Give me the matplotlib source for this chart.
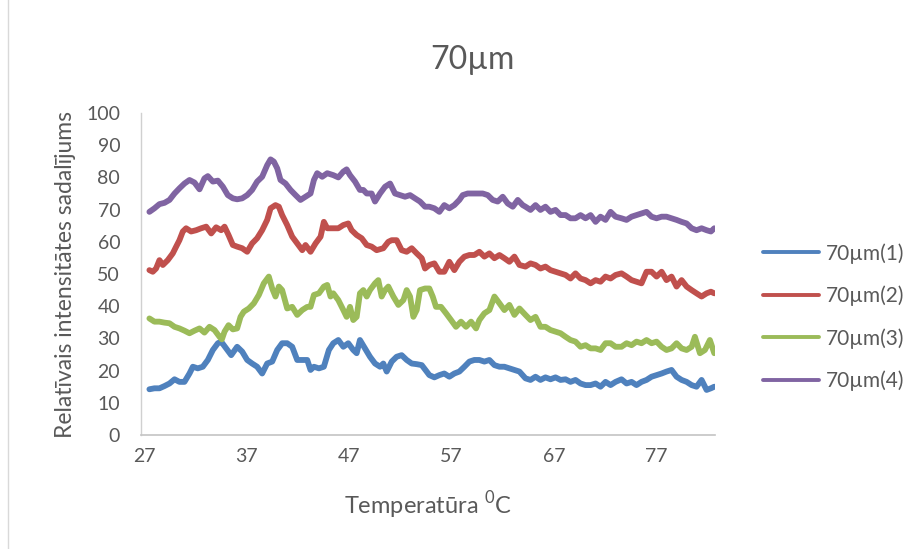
import matplotlib
matplotlib.use("Agg")
import matplotlib.pyplot as plt
from matplotlib.lines import Line2D

plt.rcParams['font.family'] = ['Lato', 'DejaVu Sans']
plt.rcParams['mathtext.fontset'] = 'custom'
plt.rcParams['mathtext.rm'] = 'Lato'

# temperature (C) and relative intensity
temp_1 = [27.52, 28.01, 28.50, 28.99, 29.48, 29.97, 30.45, 30.94, 31.43, 31.76, 32.24, 32.73, 33.22, 33.71, 34.20, 34.52, 35.01, 35.50,
          36.08, 36.57, 37.06, 37.54, 38.03, 38.52, 39.01, 39.50, 39.99, 40.47, 40.96, 41.45, 41.94, 42.43, 42.92, 43.24, 43.57, 44.06, 44.54, 45.03,
          45.46, 45.95, 46.44, 46.92, 47.41, 47.74, 48.06, 48.55, 49.04, 49.53, 50.02, 50.34, 50.67, 51.16, 51.64, 52.13, 52.62, 53.11, 53.60, 54.09, 54.57,
          54.83, 55.32, 55.81, 56.29, 56.78, 57.27, 57.76, 58.25, 58.74, 59.22, 59.71, 60.20, 60.69, 61.18, 61.67, 62.15, 62.64, 63.13, 63.62,
          64.21, 64.70, 65.19, 65.67, 66.16, 66.65, 67.14, 67.63, 68.12, 68.60, 69.09, 69.58, 70.07, 70.56, 71.05, 71.53, 72.02, 72.51, 73.00,
          73.58, 74.07, 74.56, 75.04, 75.53, 76.02, 76.51, 77.00, 77.49, 77.97, 78.46, 78.95, 79.44, 79.93, 80.42, 80.90, 81.39, 81.88, 82.30, 82.63]
val_1 = [14.2, 14.5, 14.5, 15.2, 16.0, 17.3, 16.5, 16.5, 19.1, 21.2, 20.7, 21.2, 23.3, 26.4, 28.5, 29.0, 26.9, 24.8,
         27.4, 25.9, 23.3, 22.2, 21.2, 19.1, 22.2, 22.8, 26.4, 28.5, 28.5, 27.4, 23.3, 23.3, 23.3, 20.2, 21.2, 20.7, 21.2, 26.4,
         28.5, 29.5, 27.4, 28.5, 26.4, 25.4, 29.5, 26.9, 24.3, 22.2, 21.2, 22.2, 19.7, 22.8, 24.3, 24.8, 23.3, 22.2, 22.0, 21.7, 19.7,
         18.6, 17.9, 18.6, 19.1, 18.1, 19.1, 19.7, 21.2, 22.8, 23.3, 23.3, 22.8, 23.3, 21.7, 21.2, 21.2, 20.7, 20.2, 19.7,
         17.6, 17.1, 18.1, 17.1, 17.9, 17.3, 17.9, 17.1, 17.3, 16.5, 17.1, 16.0, 15.5, 15.5, 16.0, 15.0, 16.5, 15.5, 16.5,
         17.3, 16.0, 16.5, 15.5, 16.5, 17.1, 18.1, 18.6, 19.1, 19.7, 20.2, 18.1, 17.1, 16.5, 15.5, 15.0, 17.1, 14.0, 14.5, 15.0]

temp_2 = [27.52, 27.85, 28.17, 28.50, 28.83, 29.31, 29.80, 30.13, 30.45, 30.78, 31.10, 31.59, 32.08, 32.57, 33.06, 33.55, 34.03, 34.52, 34.85, 35.24, 35.66,
          36.08, 36.57, 37.06, 37.54, 38.03, 38.52, 39.01, 39.34, 39.82, 40.15, 40.47, 40.96, 41.45, 41.94, 42.43, 42.75, 43.24, 43.73, 44.22, 44.54, 44.87,
          45.46, 45.95, 46.44, 46.92, 47.25, 47.74, 48.23, 48.72, 49.20, 49.69, 50.34, 50.83, 51.16, 51.64, 52.13, 52.62, 53.11, 53.60, 54.09, 54.41,
          54.83, 55.32, 55.81, 56.29, 56.78, 57.27, 57.76, 58.25, 58.74, 59.22, 59.71, 60.20, 60.69, 61.18, 61.67, 62.15, 62.64, 63.13, 63.62,
          64.21, 64.70, 65.19, 65.67, 66.16, 66.65, 67.14, 67.63, 68.12, 68.60, 69.09, 69.58, 70.07, 70.56, 71.05, 71.53, 72.02, 72.51, 73.00,
          73.58, 74.07, 74.56, 75.04, 75.53, 76.02, 76.51, 77.00, 77.49, 77.97, 78.46, 78.95, 79.44, 79.93, 80.42, 80.90, 81.39, 81.88, 82.30, 82.63]
val_2 = [51.2, 50.7, 51.7, 54.3, 52.8, 54.3, 56.4, 58.5, 60.5, 63.2, 64.2, 63.2, 63.6, 64.2, 64.7, 62.6, 64.5, 63.6, 64.7, 62.1, 59.0,
         58.5, 58.0, 56.9, 59.5, 61.1, 63.6, 66.8, 70.4, 71.4, 70.9, 68.3, 65.2, 61.6, 59.5, 57.4, 59.0, 56.9, 59.5, 61.6, 66.2, 64.2,
         64.2, 64.2, 65.2, 65.7, 63.6, 62.1, 61.1, 59.0, 58.5, 57.4, 58.0, 60.0, 60.5, 60.5, 57.4, 56.9, 58.0, 56.4, 54.9, 51.7,
         52.8, 53.3, 50.7, 50.7, 53.8, 51.2, 53.8, 55.4, 55.9, 55.9, 56.9, 55.4, 56.4, 54.9, 55.9, 54.9, 53.8, 55.4, 52.8,
         52.3, 53.3, 52.8, 51.7, 52.3, 51.2, 50.7, 50.2, 49.7, 48.6, 50.2, 48.6, 48.1, 47.1, 48.1, 47.6, 49.2, 48.6, 49.7,
         50.2, 49.2, 48.1, 47.6, 47.1, 50.7, 50.7, 49.2, 50.7, 48.1, 49.2, 46.1, 48.1, 46.1, 45.0, 44.0, 43.0, 44.0, 44.5, 44.0]

temp_3 = [27.52, 28.01, 28.50, 28.99, 29.48, 29.97, 30.45, 30.94, 31.43, 31.92, 32.41, 32.89, 33.38, 33.87, 34.36, 34.59, 34.85, 35.24, 35.66,
          36.08, 36.41, 36.73, 37.22, 37.71, 38.20, 38.68, 39.17, 39.50, 39.82, 40.15, 40.47, 40.96, 41.45, 41.94, 42.43, 42.92, 43.24, 43.57, 44.06, 44.54, 44.87, 45.19,
          45.46, 45.95, 46.44, 46.76, 47.09, 47.41, 47.74, 48.06, 48.39, 48.72, 49.04, 49.53, 49.85, 50.18, 50.51, 50.83, 51.32, 51.81, 52.30, 52.62, 52.95, 53.27, 53.60, 53.92, 54.41,
          54.83, 55.16, 55.48, 55.97, 56.46, 56.95, 57.43, 57.92, 58.41, 58.90, 59.39, 59.71, 60.20, 60.69, 61.18, 61.67, 62.15, 62.64, 63.13, 63.62,
          64.21, 64.70, 65.19, 65.67, 66.16, 66.65, 67.14, 67.63, 68.12, 68.60, 69.09, 69.58, 70.07, 70.56, 71.05, 71.53, 72.02, 72.51, 73.00,
          73.58, 74.07, 74.56, 75.04, 75.53, 76.02, 76.51, 77.00, 77.49, 77.97, 78.46, 78.95, 79.44, 79.93, 80.42, 80.74, 81.23, 81.72, 82.20, 82.63]
val_3 = [36.2, 35.2, 35.2, 34.9, 34.7, 33.6, 33.1, 32.4, 31.6, 32.4, 33.1, 31.8, 33.6, 32.6, 30.5, 29.7, 32.1, 34.1, 32.8,
         33.1, 36.7, 38.3, 39.3, 40.9, 43.5, 47.1, 49.2, 45.5, 43.0, 46.1, 45.0, 39.3, 39.8, 37.3, 38.8, 39.8, 39.8, 43.5, 44.0, 46.1, 46.6, 43.0,
         44.0, 41.9, 38.8, 36.7, 39.8, 35.7, 36.7, 44.0, 45.0, 43.0, 45.0, 47.1, 48.1, 43.0, 45.0, 46.1, 43.0, 40.4, 41.9, 45.0, 43.0, 36.7, 38.8, 45.0, 45.5,
         45.5, 43.0, 39.8, 39.8, 37.8, 35.7, 33.6, 35.2, 33.6, 35.2, 33.1, 35.7, 37.8, 38.8, 43.0, 40.9, 38.8, 40.4, 37.3, 39.3,
         37.3, 35.7, 36.7, 33.6, 33.6, 32.6, 32.1, 31.6, 30.5, 29.5, 29.0, 27.4, 27.9, 26.9, 26.9, 26.4, 28.5, 28.5, 27.4,
         27.4, 28.5, 27.9, 29.0, 28.5, 29.5, 28.5, 29.0, 27.4, 26.4, 26.9, 28.5, 26.9, 26.4, 27.4, 30.5, 25.4, 26.4, 29.5, 25.4]

temp_4 = [27.52, 28.01, 28.50, 28.99, 29.48, 29.97, 30.45, 30.94, 31.43, 31.92, 32.41, 32.89, 33.22, 33.71, 34.20, 34.69, 35.17, 35.66,
          36.08, 36.57, 37.06, 37.54, 38.03, 38.52, 39.01, 39.34, 39.66, 39.99, 40.31, 40.80, 41.29, 41.78, 42.26, 42.75, 43.24, 43.57, 43.89, 44.38, 44.87,
          45.46, 45.95, 46.44, 46.76, 47.09, 47.58, 48.06, 48.39, 48.72, 49.20, 49.53, 50.02, 50.51, 51.00, 51.48, 51.97, 52.46, 52.95, 53.43, 53.92, 54.41,
          54.83, 55.32, 55.81, 56.29, 56.78, 57.27, 57.76, 58.09, 58.57, 59.06, 59.55, 60.04, 60.53, 61.01, 61.50, 61.99, 62.48, 62.97, 63.46, 63.94,
          64.21, 64.70, 65.19, 65.67, 66.16, 66.65, 67.14, 67.63, 68.12, 68.60, 69.09, 69.58, 70.07, 70.56, 71.05, 71.53, 72.02, 72.51, 73.00,
          73.58, 74.07, 74.56, 75.04, 75.53, 76.02, 76.51, 77.00, 77.49, 77.97, 78.46, 78.95, 79.44, 79.93, 80.42, 80.90, 81.39, 81.88, 82.30, 82.63]
val_4 = [69.3, 70.4, 71.7, 72.1, 73.0, 75.0, 76.6, 78.1, 79.2, 78.4, 76.3, 79.7, 80.4, 78.7, 79.0, 77.1, 74.5, 73.5,
         73.2, 73.5, 74.5, 76.1, 78.7, 80.2, 83.8, 85.6, 84.9, 82.8, 79.2, 78.1, 76.1, 74.5, 73.0, 74.0, 75.0, 79.2, 81.3, 80.2, 81.3,
         80.7, 80.0, 81.8, 82.5, 80.7, 78.7, 76.1, 76.1, 75.0, 75.0, 72.5, 75.0, 77.1, 78.1, 75.0, 74.5, 74.0, 74.5, 73.5, 72.5, 70.9,
         70.9, 70.4, 69.3, 71.4, 70.4, 71.4, 73.0, 74.5, 75.0, 75.0, 75.0, 75.0, 74.5, 73.0, 72.5, 74.0, 71.9, 70.9, 73.0, 71.4,
         70.9, 69.9, 71.4, 69.9, 70.9, 69.3, 69.9, 68.3, 68.3, 67.3, 67.3, 68.3, 67.3, 68.3, 66.2, 67.8, 66.8, 69.3, 67.8,
         67.3, 66.8, 67.8, 68.3, 68.8, 69.3, 67.8, 67.3, 67.8, 67.8, 67.3, 66.8, 66.2, 65.7, 64.2, 63.6, 64.2, 63.6, 63.2, 64.2]

series_names = ['70µm(1)', '70µm(2)', '70µm(3)', '70µm(4)']
series_temps = [temp_1, temp_2, temp_3, temp_4]
series_vals = [val_1, val_2, val_3, val_4]
colors = ['#4F81BD', '#C0504D', '#9BBB59', '#8064A2']
x_ticks = [27, 37, 47, 57, 67, 77]
y_ticks = list(range(0, 101, 10))

fig = plt.figure(figsize=(9.23, 5.49), dpi=100)
ax = fig.add_axes([141 / 923, 1 - 435 / 549, (715 - 141) / 923, (435 - 113) / 549])

handles = []
for t, v, name, c in zip(series_temps, series_vals, series_names, colors):
    ax.plot(t, v, color=c, lw=4.2, solid_joinstyle='round', solid_capstyle='round')
    handles.append(Line2D([0], [0], color=c, lw=2.8, solid_capstyle='round'))

ax.set_xlim(26.7, 82.7)
ax.set_ylim(0, 100)
ax.set_xticks(x_ticks)
ax.set_yticks(y_ticks)

tick_color = '#595959'
ax.tick_params(axis='both', length=0, labelsize=14, labelcolor=tick_color)
ax.tick_params(axis='y', pad=15)
ax.tick_params(axis='x', pad=9)

for side in ['top', 'right']:
    ax.spines[side].set_visible(False)
ax.spines['left'].set_color('#d0d0d0')
ax.spines['bottom'].set_color('#c4c4c4')
ax.spines['left'].set_linewidth(1.0)
ax.spines['bottom'].set_linewidth(1.2)

fig.text(472 / 923, 1 - 60 / 549, '70µm', fontsize=23, color=tick_color, ha='center', va='center')
ax.set_ylabel('Relatīvais intensitātes sadalījums', fontsize=16.5, color=tick_color, labelpad=7)
ax.set_xlabel('Temperatūra $^{0}$C', fontsize=17, color=tick_color, labelpad=18)

fig.legend(handles, series_names, loc='center left', bbox_to_anchor=(763 / 923, 1 - 317 / 549),
           frameon=False, fontsize=15, labelcolor=tick_color, handlelength=2.7,
           handletextpad=0.3, labelspacing=1.05, borderpad=0, borderaxespad=0)

# chart area border
fig.add_artist(Line2D([8 / 923, 8 / 923], [0, 1], color='#d9d9d9', lw=1))

fig.savefig('out.png', dpi=100)
